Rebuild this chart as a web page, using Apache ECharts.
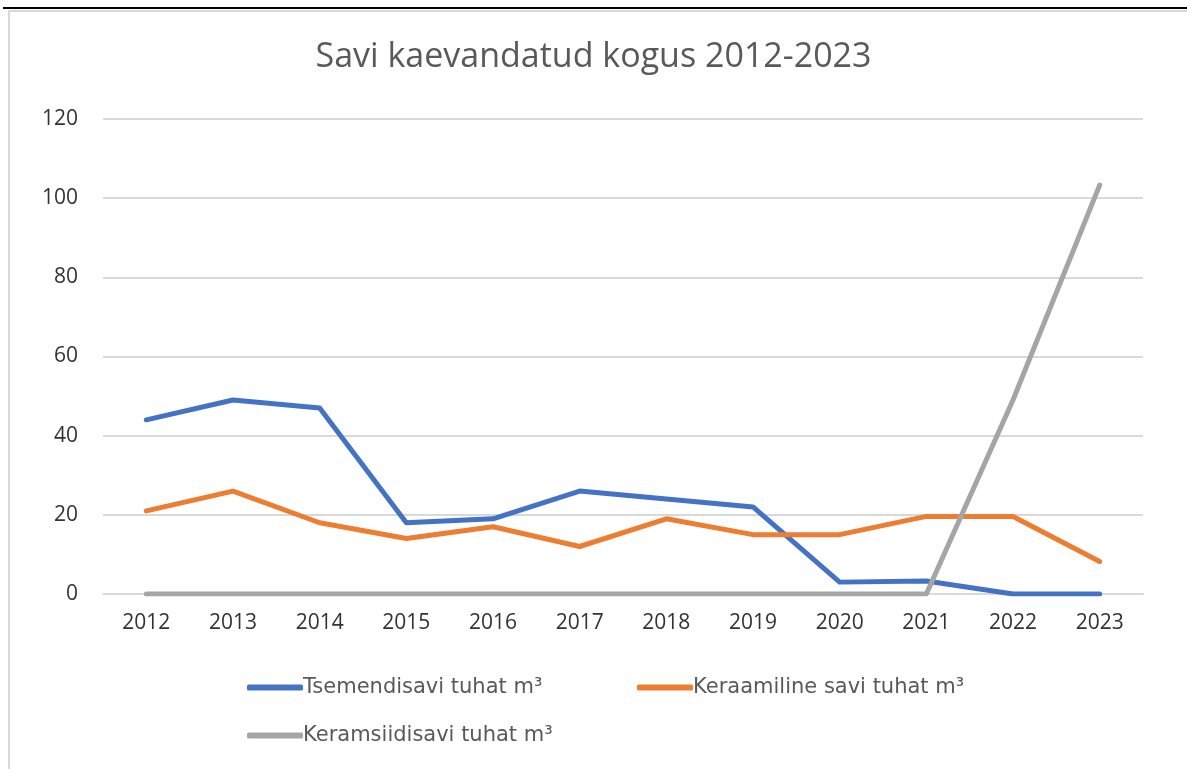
<!DOCTYPE html>
<html>
<head>
<meta charset="utf-8">
<script src="https://cdn.jsdelivr.net/npm/echarts@6/dist/echarts.min.js"></script>
<style>
html,body{margin:0;padding:0;background:#fff;}
#c{width:1187px;height:769px;}
</style>
</head>
<body>
<div id="c"></div>
<script>
const years = ['2012','2013','2014','2015','2016','2017','2018','2019','2020','2021','2022','2023'];
const tsemendisavi = [44, 49, 47, 18, 19, 26, 24, 22, 3, 3.3, 0, 0];
const keraamiline = [21, 26, 18, 14, 17, 12, 19, 15, 15, 19.6, 19.6, 8.2];
const keramsiidisavi = [0, 0, 0, 0, 0, 0, 0, 0, 0, 0, 49, 103.3];
const seriesNames = ['Tsemendisavi tuhat m³', 'Keraamiline savi tuhat m³', 'Keramsiidisavi tuhat m³'];
const colors = ['#4472C4', '#ED7D31', '#A5A5A5'];

const chart = echarts.init(document.getElementById('c'));
const font = '"Open Sans", "Liberation Sans", sans-serif';
const legendCommon = {
  itemWidth: 56, itemHeight: 6, icon: 'roundRect',
  textStyle: {fontFamily: '"DejaVu Sans", sans-serif', fontSize: 21, color: '#595959', padding: [0,0,0,-5]},
  padding: 0
};
chart.setOption({
  backgroundColor: '#fff',
  color: colors,
  animation: false,
  title: {
    text: 'Savi kaevandatud kogus 2012-2023',
    left: 'center', top: 35,
    textStyle: {fontFamily: font, fontSize: 34, fontWeight: 'normal', color: '#595959'}
  },
  legend: [
    Object.assign({data: [seriesNames[0]], left: 247, top: 677}, legendCommon),
    Object.assign({data: [seriesNames[1]], left: 637, top: 677}, legendCommon),
    Object.assign({data: [seriesNames[2]], left: 247, top: 725}, legendCommon)
  ],
  grid: {left: 103, right: 44, top: 119, bottom: 175},
  xAxis: {
    type: 'category', data: years, boundaryGap: true,
    axisLine: {lineStyle: {color: '#d9d9d9', width: 2}},
    axisTick: {show: false},
    axisLabel: {fontFamily: font, fontSize: 21, color: '#333333', margin: 19}
  },
  yAxis: {
    type: 'value', min: 0, max: 120, interval: 20,
    axisLine: {show: false}, axisTick: {show: false},
    splitLine: {lineStyle: {color: '#d9d9d9', width: 2}},
    axisLabel: {fontFamily: font, fontSize: 21, color: '#333333', margin: 25}
  },
  series: [
    {name: seriesNames[0], type: 'line', data: tsemendisavi, symbol: 'none', lineStyle: {width: 5, cap: 'round', join: 'round'}, z: 3},
    {name: seriesNames[1], type: 'line', data: keraamiline, symbol: 'none', lineStyle: {width: 5, cap: 'round', join: 'round'}, z: 4},
    {name: seriesNames[2], type: 'line', data: keramsiidisavi, symbol: 'none', lineStyle: {width: 5, cap: 'round', join: 'round'}, z: 5}
  ],
  graphic: [
    {type: 'rect', shape: {x: 9, y: 11, width: 1200, height: 800}, style: {fill: 'none', stroke: '#d9d9d9', lineWidth: 2}, silent: true},
    {type: 'rect', shape: {x: 3, y: 7, width: 1184, height: 2}, style: {fill: '#000'}, silent: true}
  ]
});
</script>
</body>
</html>
